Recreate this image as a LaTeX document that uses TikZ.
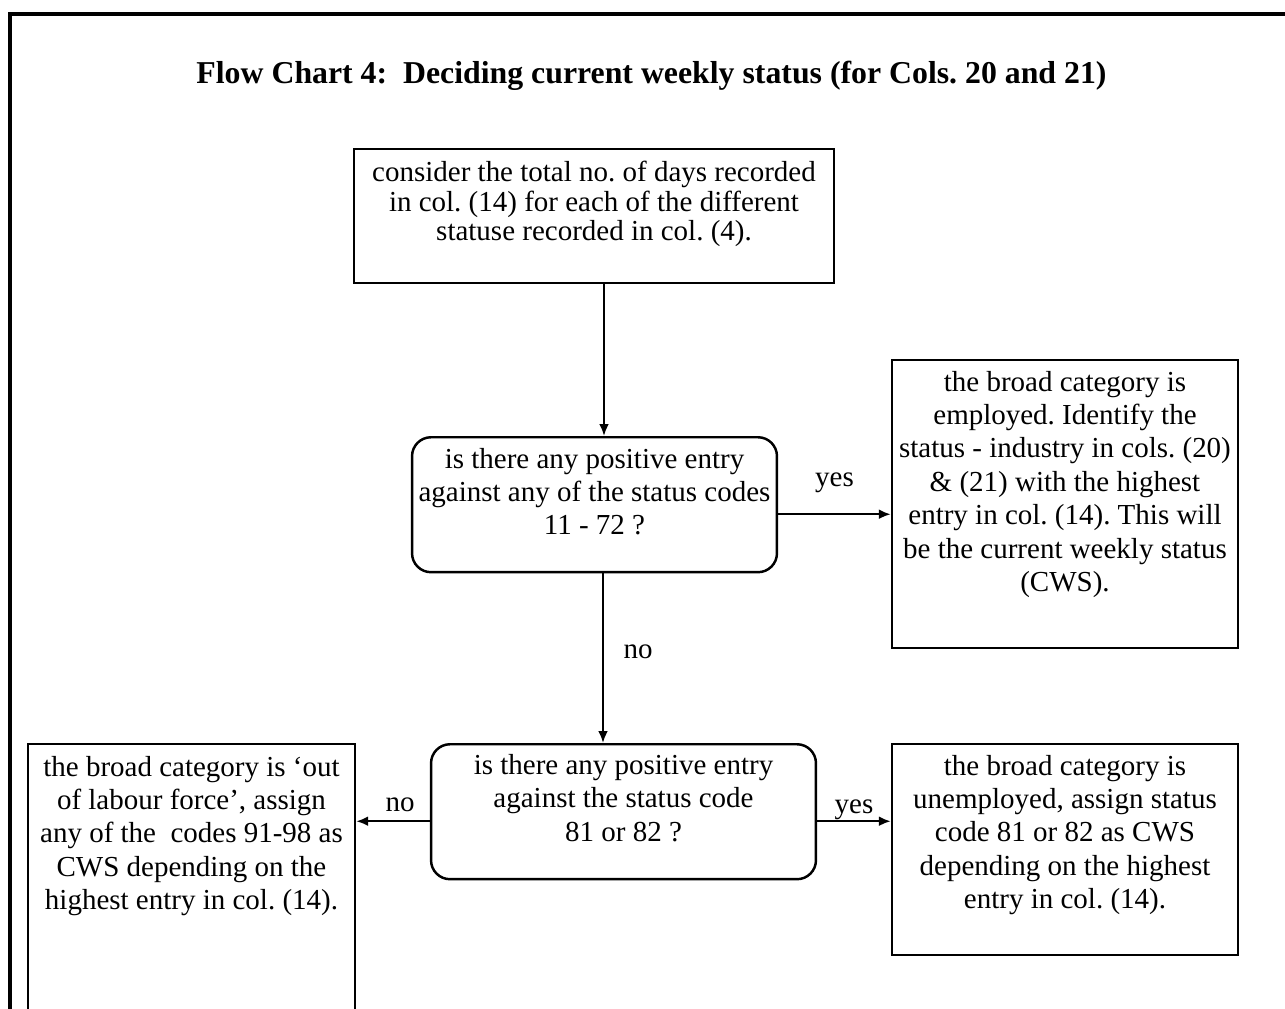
\documentclass[tikz,border=0pt]{standalone}
\usepackage{fontspec}
\setmainfont{Liberation Serif}
\usepackage{tikz}
\usetikzlibrary{arrows.meta,positioning,calc}
\definecolor{ink}{HTML}{000000}
\frenchspacing
\newcommand{\chartfont}{\fontsize{16.5}{19}\selectfont}
\newcommand{\titlefont}{\fontsize{18.1}{21}\selectfont\bfseries}
\newcommand{\cell}[1]{\begin{tabular}[t]{@{}c@{}}#1\end{tabular}}
\tikzset{
  chartbox/.style={draw=ink,line width=1.4pt,inner sep=0pt,
                   font=\chartfont,anchor=north},
  askbox/.style={chartbox,rounded corners=0.38cm},
  flowarr/.style={-{Latex[length=0.24cm,width=0.2cm]},line width=1.4pt,color=ink},
  branch/.style={font=\chartfont,inner sep=0pt,anchor=base},
  frame/.style={draw=ink,line width=2pt}
}

\begin{document}
\begin{tikzpicture}[x=0.02cm,y=-0.02cm]
  \useasboundingbox (0,0) rectangle (1285,1008);
  \draw[frame] (10,1060) |- (1320,14);

  \node[font=\titlefont,anchor=base] (title) at (651.5,83)
    {Flow Chart 4:\ \ Deciding current weekly status (for Cols. 20 and 21)};

  \node[chartbox,minimum width=9.6cm,minimum height=2.68cm,
        text height=0.64cm,text depth=2.04cm,font=\fontsize{16.5}{17}\selectfont]
    (consider) at (594,148)
    {\cell{consider the total no. of days recorded\\
     in col. (14) for each of the different\\
     statuse recorded in col. (4).}};

  \node[askbox,minimum width=7.3cm,minimum height=2.7cm,
        text height=0.62cm,text depth=2.08cm]
    (askemp) at (594.5,436)
    {\cell{is there any positive entry\\
     against any of the status codes\\
     11 - 72 ?}};

  \node[chartbox,minimum width=6.92cm,minimum height=5.76cm,
        text height=0.62cm,text depth=5.14cm]
    (employed) at (1065,359)
    {\cell{the broad category is\\
     employed. Identify the\\
     status - industry in cols. (20)\\
     \& (21) with the highest\\
     entry in col. (14). This will\\
     be the current weekly status\\
     (CWS).}};

  \node[askbox,minimum width=7.7cm,minimum height=2.7cm,
        text height=0.6cm,text depth=2.1cm]
    (askunemp) at (623.5,743)
    {\cell{is there any positive entry\\
     against the status code\\
     81 or 82 ?}};

  \node[chartbox,minimum width=6.54cm,minimum height=5.8cm,
        text height=0.64cm,text depth=5.16cm]
    (outlf) at (191.5,743)
    {\cell{the broad category is ‘out\\
     of labour force’, assign\\
     any of the~ codes 91-98 as\\
     CWS depending on the\\
     highest entry in col. (14).}};

  \node[chartbox,minimum width=6.92cm,minimum height=4.22cm,
        text height=0.62cm,text depth=3.6cm]
    (unemployed) at (1065,743)
    {\cell{the broad category is\\
     unemployed, assign status\\
     code 81 or 82 as CWS\\
     depending on the highest\\
     entry in col. (14).}};

  % connectors
  \draw[flowarr] ([xshift=0.2cm]consider.south)
    -- ([xshift=0.2cm]consider.south |- askemp.north);
  \draw[flowarr] ([yshift=-0.19cm]askemp.east)
    -- node[branch,yshift=0.56cm] (yesemp) {yes}
       ([yshift=-0.19cm]askemp.east -| employed.west);
  \draw[flowarr] ([xshift=0.17cm]askemp.south)
    -- node[branch,anchor=base west,xshift=0.39cm] (noemp) {no}
       ([xshift=0.17cm]askemp.south |- askunemp.north);
  \draw[flowarr] ([yshift=-0.19cm]askunemp.west)
    -- node[branch,yshift=0.2cm,xshift=0.14cm] (nounemp) {no}
       ([yshift=-0.19cm]askunemp.west -| outlf.east);
  \draw[flowarr] ([yshift=-0.19cm]askunemp.east)
    -- node[branch,yshift=0.16cm] (yesunemp) {yes}
       ([yshift=-0.19cm]askunemp.east -| unemployed.west);
\end{tikzpicture}
\end{document}
